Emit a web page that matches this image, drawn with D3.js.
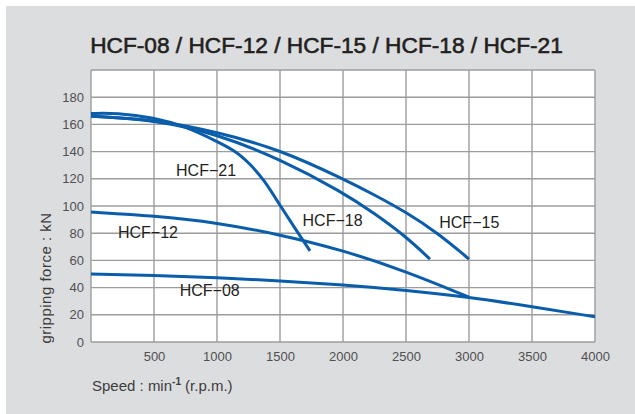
<!DOCTYPE html>
<html>
<head>
<meta charset="utf-8">
<script src="https://cdn.jsdelivr.net/npm/d3@7"></script>
<style>
  body { margin: 0; background: #fff; }
  text { font-family: "Liberation Sans", Arial, sans-serif; }
</style>
</head>
<body>
<div id="graf"></div>
<script>
// datos
const titulo = "HCF-08 / HCF-12 / HCF-15 / HCF-18 / HCF-21"
const speedTicks = [500, 1000, 1500, 2000, 2500, 3000, 3500, 4000]
const forceTicks = [0, 20, 40, 60, 80, 100, 120, 140, 160, 180]

const hcf21 = [[0, 168], [200, 168.5], [500, 165], [750, 158.5], [1000, 147.5], [1156, 140], [1260, 131], [1368, 120], [1500, 100.5], [1620, 83.5], [1738, 67]]
const hcf18 = [[0, 166], [500, 163.5], [1000, 153], [1500, 134.5], [2000, 110], [2250, 94.5], [2500, 77.5], [2690, 61]]
const hcf15 = [[0, 166], [500, 163.5], [1000, 154.5], [1500, 141.5], [2000, 120], [2254, 108], [2500, 95.5], [2754, 80], [3000, 61]]
const hcf12 = [[0, 95.5], [500, 92.8], [1000, 87.8], [1500, 79], [2000, 67.5], [2500, 52], [3000, 33]]
const hcf08 = [[0, 50], [500, 49], [1000, 47.5], [1500, 45], [2000, 42], [2500, 38], [3000, 33], [3500, 26], [4000, 18.5]]

const nombres = ["HCF−21", "HCF−18", "HCF−15", "HCF−12", "HCF−08"]
const curvas = [hcf21, hcf18, hcf15, hcf12, hcf08]
// donde va cada etiqueta (rpm, kN)
const etiquetas = [[675, 122], [1679, 85.3], [2764, 83.8], [214, 76.2], [704, 33.8]]

const anchoTotal = 635
const altoTotal = 414
const margins = { top: 70, right: 40, bottom: 72, left: 91 }
const ancho = anchoTotal - margins.left - margins.right
const alto = altoTotal - margins.top - margins.bottom

const svg = d3.select("#graf").append("svg").attr("width", anchoTotal).attr("height", altoTotal)

svg.append("rect").attr("x", 6).attr("y", 6).attr("width", anchoTotal - 6).attr("height", altoTotal - 6).attr("fill", "#dcdddf")

svg.append("text").attr("x", 326.5).attr("y", 53).attr("text-anchor", "middle")
    .attr("font-size", 22.7).attr("fill", "#231f20")
    .attr("stroke", "#231f20").attr("stroke-width", 0.6).text(titulo)

const g = svg.append("g").attr("transform", `translate(${margins.left}, ${margins.top})`)

const x = d3.scaleLinear().domain([0, 4000]).range([0, ancho])
const y = d3.scaleLinear().domain([0, 200]).range([alto, 0])

g.append("rect").attr("width", ancho).attr("height", alto).attr("fill", "#fff")

// grilla
g.selectAll(".vgrid").data(speedTicks).enter().append("line")
    .attr("x1", d => x(d)).attr("x2", d => x(d)).attr("y1", 0).attr("y2", alto)
    .attr("stroke", "#9c9c9c").attr("stroke-width", 1.4)
g.selectAll(".hgrid").data(forceTicks.concat([200])).enter().append("line")
    .attr("x1", 0).attr("x2", ancho).attr("y1", d => y(d)).attr("y2", d => y(d))
    .attr("stroke", "#9c9c9c").attr("stroke-width", 1.4)
g.append("line").attr("x1", 0).attr("x2", 0).attr("y1", 0).attr("y2", alto)
    .attr("stroke", "#9c9c9c").attr("stroke-width", 1.4)

// ejes
const xAxis = d3.axisBottom(x).tickValues(speedTicks).tickSize(0).tickPadding(10).tickFormat(d3.format("d"))
const yAxis = d3.axisLeft(y).tickValues(forceTicks).tickSize(0).tickPadding(7).tickFormat(d3.format("d"))
const gx = g.append("g").attr("transform", `translate(0, ${alto})`).call(xAxis)
const gy = g.append("g").call(yAxis)
gx.select(".domain").remove()
gy.select(".domain").remove()
g.selectAll(".tick text").attr("font-family", "Liberation Sans, Arial, sans-serif")
    .attr("font-size", 13).attr("fill", "#505050")

// curvas
const linea = d3.line().x(d => x(d[0])).y(d => y(d[1])).curve(d3.curveBasis)
g.selectAll(".curva").data(curvas).enter().append("path")
    .attr("d", linea).attr("fill", "none").attr("stroke", "#0a5dab").attr("stroke-width", 3)

g.selectAll(".etiqueta").data(nombres).enter().append("text")
    .attr("x", (d, i) => x(etiquetas[i][0])).attr("y", (d, i) => y(etiquetas[i][1]))
    .attr("font-size", 16).attr("fill", "#231f20").text(d => d)

// titulos de ejes
svg.append("text").attr("transform", "translate(51, 278) rotate(-90)").attr("text-anchor", "middle")
    .attr("font-size", 15).attr("letter-spacing", 0.5).attr("fill", "#3c3c3c").text("gripping force : kN")

const xl = svg.append("text").attr("x", 92).attr("y", 391).attr("font-size", 15).attr("fill", "#3c3c3c")
xl.append("tspan").text("Speed : min")
xl.append("tspan").attr("font-size", 10).attr("dy", -6).attr("font-weight", "bold").text("-1")
xl.append("tspan").attr("dy", 6).text(" (r.p.m.)")
</script>
</body>
</html>
